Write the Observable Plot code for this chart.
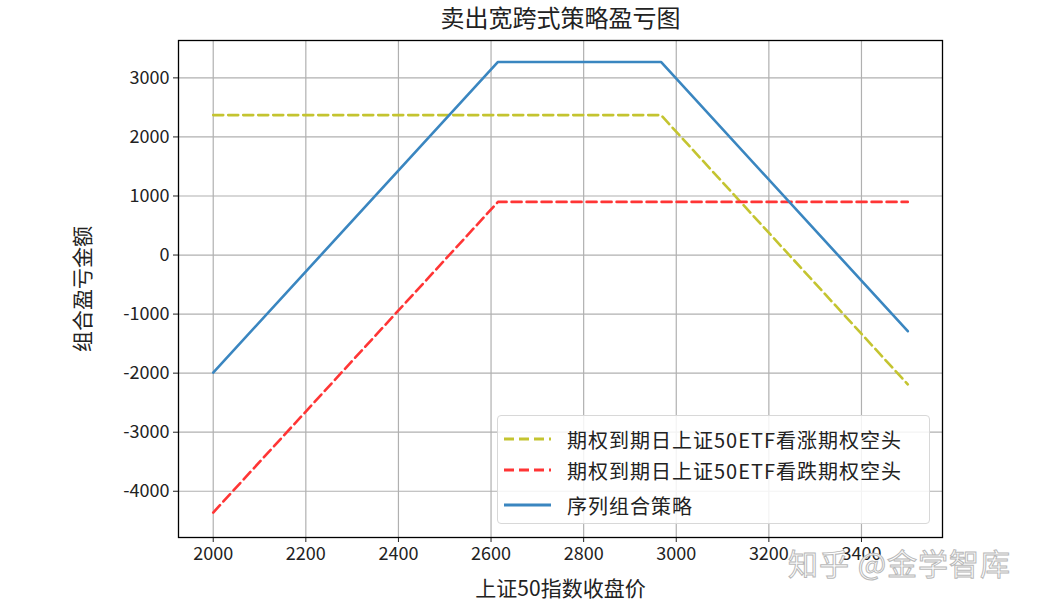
<!DOCTYPE html>
<html>
<head>
<meta charset="utf-8">
<script src="https://cdn.jsdelivr.net/npm/d3@7"></script>
<script src="https://cdn.jsdelivr.net/npm/@observablehq/plot@0.6"></script>
<style>
  html, body { margin: 0; padding: 0; background: #fff; }
  #wrap { position: relative; width: 1041px; height: 606px; font-family: "Noto Sans CJK SC", sans-serif; }
  #legend { position: absolute; left: 497px; top: 415px; width: 433px; height: 109px; box-sizing: border-box;
    border: 1px solid #d8d8d8; border-radius: 4px; background: rgba(255,255,255,0.85); font-size: 20px; color: #222; }
  .row { position: absolute; left: 6px; height: 30px; display: flex; align-items: center; }
  .row svg { width: 47px; height: 10px; margin-right: 16px; }
  .row span { letter-spacing: 1px; }
  #wm { position: absolute; left: 788px; top: 540px; font-size: 30px; color: #fff; -webkit-text-stroke: 1px #b8b8b8; letter-spacing: 1px; }
</style>
</head>
<body>
<div id="wrap"></div>
<script>
const prices = [2000, 2615, 2967, 3500];
const callShort = [2370, 2370, 2370, -2190];
const putShort = [-4360, 900, 900, 900];
const combo = [-1990, 3270, 3270, -1290];
const seriesNames = ["期权到期日上证50ETF看涨期权空头", "期权到期日上证50ETF看跌期权空头", "序列组合策略"];
const seriesColors = ["#c4c430", "#ff3535", "#3a86c0"];
const seriesDash = ["10,5", "10,5", null];
const xTicks = [2000, 2200, 2400, 2600, 2800, 3000, 3200, 3400];
const yTicks = [-4000, -3000, -2000, -1000, 0, 1000, 2000, 3000];
const titleText = "卖出宽跨式策略盈亏图";
const xLabel = "上证50指数收盘价";
const yLabel = "组合盈亏金额";
const watermark = "知乎 @金学智库";

const allSeries = [callShort, putShort, combo];
const rows = [];
allSeries.forEach((vals, i) => prices.forEach((p, j) => rows.push({x: p, y: vals[j], s: seriesNames[i]})));

const font = "Noto Sans CJK SC";
const lineMarks = seriesNames.map((name, i) =>
  Plot.line(rows.filter(d => d.s === name), {x: "x", y: "y", stroke: seriesColors[i], strokeWidth: 2.6,
    strokeDasharray: seriesDash[i] || undefined})
);

const chart = Plot.plot({
  width: 1041, height: 606,
  marginLeft: 178, marginRight: 99, marginTop: 40, marginBottom: 69,
  style: {fontFamily: font, fontSize: "18px", color: "#222", background: "#fff"},
  x: {domain: [1925, 3575], label: null},
  y: {domain: [-4783, 3633], label: null},
  marks: [
    Plot.gridX(xTicks, {stroke: "#b0b0b0", strokeOpacity: 1, strokeWidth: 1.2}),
    Plot.gridY(yTicks, {stroke: "#b0b0b0", strokeOpacity: 1, strokeWidth: 1.2}),
    ...lineMarks,
    Plot.axisX({ticks: xTicks, tickFormat: d => String(d), tickSize: 5, tickPadding: 5, fontSize: 18, label: null}),
    Plot.axisY({ticks: yTicks, tickFormat: d => String(d), tickSize: 5, tickPadding: 4, fontSize: 18, label: null}),
    Plot.frame({stroke: "#000", strokeWidth: 1.3}),
    Plot.text([titleText], {frameAnchor: "top", dy: -21, fontSize: 24, fill: "#222", lineAnchor: "middle"}),
    Plot.text([xLabel], {frameAnchor: "bottom", dy: 52, fontSize: 21, fill: "#222", lineAnchor: "middle"}),
    Plot.text([yLabel], {frameAnchor: "left", dx: -95, rotate: -90, textAnchor: "middle", fontSize: 21, fill: "#222", lineAnchor: "middle"})
  ]
});
const wrap = document.getElementById("wrap");
wrap.appendChild(chart);

const legend = document.createElement("div");
legend.id = "legend";
const tops = [8, 39, 74];
seriesNames.forEach((name, i) => {
  const r = document.createElement("div");
  r.className = "row";
  r.style.top = tops[i] + "px";
  r.innerHTML = `<svg viewBox="0 0 47 10"><line x1="0" y1="5" x2="47" y2="5" stroke="${seriesColors[i]}" stroke-width="3" ${seriesDash[i] ? `stroke-dasharray="${seriesDash[i]}"` : ""}/></svg><span>${name}</span>`;
  legend.appendChild(r);
});
wrap.appendChild(legend);

const wm = document.createElement("div");
wm.id = "wm";
wm.textContent = watermark;
wrap.appendChild(wm);
</script>
</body>
</html>
